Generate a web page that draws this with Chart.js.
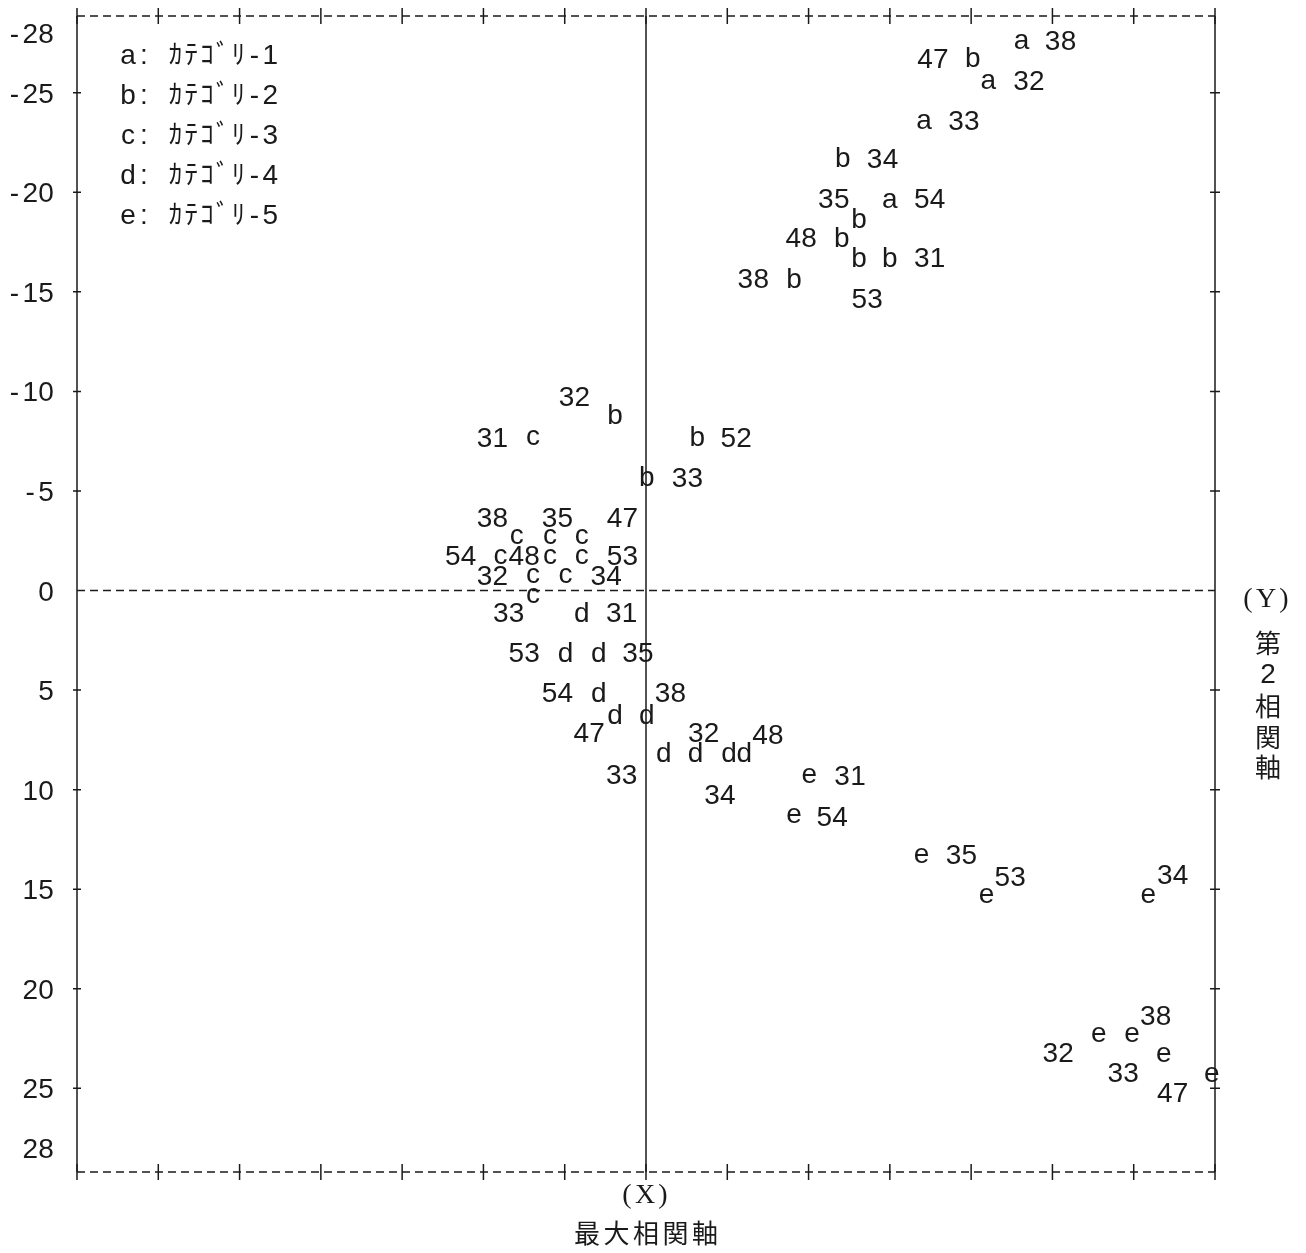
<!DOCTYPE html>
<html>
<head>
<meta charset="utf-8">
<title>最大相関軸</title>
<script src="https://cdn.jsdelivr.net/npm/chart.js"></script>
<style>
  * { margin: 0; padding: 0; }
  body { background: #fff; }
</style>
</head>
<body>
<canvas id="chart" width="1306" height="1253"></canvas>
<script>
// legend
const categories = ['a', 'b', 'c', 'd', 'e'];
const categoryNames = ['ｶﾃｺﾞﾘ-1', 'ｶﾃｺﾞﾘ-2', 'ｶﾃｺﾞﾘ-3', 'ｶﾃｺﾞﾘ-4', 'ｶﾃｺﾞﾘ-5'];

// axes
const xTicks = [-7, -6, -5, -4, -3, -2, -1, 0, 1, 2, 3, 4, 5, 6, 7];
const yTicks = [-28, -25, -20, -15, -10, -5, 0, 5, 10, 15, 20, 25, 28];
const yMarks = [-25, -20, -15, -10, -5, 5, 10, 15, 20, 25];

// a
const aPoints = [[4.62, -27.70], [4.21, -25.69], [3.42, -23.69], [3.00, -19.73]];
const aIds = ['38', '32', '33', '54'];
const aIdPos = [[5.10, -27.65], [4.71, -25.64], [3.91, -23.64], [3.49, -19.73]];

// b
const bPoints = [[4.02, -26.77], [2.42, -21.76], [2.62, -18.71], [2.41, -17.76], [2.62, -16.75],
                 [3.00, -16.75], [1.82, -15.70], [-0.38, -8.84], [0.63, -7.74], [0.01, -5.73]];
const bIds = ['47', '34', '35', '48', '53', '31', '38', '32', '52', '33'];
const bIdPos = [[3.53, -26.75], [2.91, -21.74], [2.31, -19.73], [1.91, -17.73], [2.72, -14.68],
                [3.49, -16.73], [1.32, -15.68], [-0.88, -9.77], [1.11, -7.71], [0.51, -5.71]];

// c
const cPoints = [[-1.39, -7.81], [-1.59, -2.85], [-1.18, -2.85], [-0.79, -2.85], [-1.79, -1.85],
                 [-1.18, -1.85], [-0.79, -1.85], [-1.39, -0.90], [-0.99, -0.90], [-1.39, 0.10]];
const cIds = ['31', '38', '35', '47', '54', '48', '53', '32', '34', '33'];
const cIdPos = [[-1.89, -7.71], [-1.89, -3.71], [-1.09, -3.71], [-0.29, -3.71], [-2.28, -1.80],
                [-1.50, -1.80], [-0.29, -1.80], [-1.89, -0.80], [-0.49, -0.80], [-1.69, 1.10]];

// d
const dPoints = [[-0.79, 1.08], [-0.99, 3.08], [-0.58, 3.08], [-0.58, 5.08], [-0.38, 6.19],
                 [0.01, 6.19], [0.22, 8.09], [0.61, 8.09], [1.02, 8.09], [1.21, 8.09]];
const dIds = ['31', '53', '35', '54', '47', '38', '33', '34', '32', '48'];
const dIdPos = [[-0.30, 1.10], [-1.50, 3.11], [-0.10, 3.11], [-1.09, 5.11], [-0.70, 7.11],
                [0.30, 5.11], [-0.30, 9.22], [0.91, 10.22], [0.71, 7.11], [1.50, 7.21]];

// e
const ePoints = [[2.01, 9.17], [1.82, 11.17], [3.39, 13.17], [4.19, 15.18], [6.18, 15.18],
                 [5.57, 22.19], [5.98, 22.19], [6.37, 23.19], [6.96, 24.19]];
const eIds = ['31', '54', '35', '53', '34', '32', '38', '33', '47'];
const eIdPos = [[2.51, 9.27], [2.29, 11.32], [3.88, 13.22], [4.48, 14.32], [6.48, 14.22],
                [5.07, 23.19], [6.27, 21.34], [5.87, 24.19], [6.48, 25.19]];

const allPoints = [aPoints, bPoints, cPoints, dPoints, ePoints];
const allIds = [aIds, bIds, cIds, dIds, eIds];
const allIdPos = [aIdPos, bIdPos, cIdPos, dIdPos, eIdPos];

const PITCH = 15.8;
const FONT = '28px "Liberation Sans", sans-serif';
const KANA_FONT = '27px "Noto Sans CJK JP", sans-serif';
const CJK_FONT = '26px "Noto Sans CJK JP", sans-serif';
const PAREN_FONT = '28px "Liberation Serif", serif';
const INK = '#1a1a1a';

// draws text one character per printer column, centred on cx, row centre cy
function drawRow(ctx, text, cx, cy, pitch, font) {
    const n = text.length;
    for (let i = 0; i < n; i++) {
        const ch = text[i];
        if (ch === ' ') continue;
        ctx.font = font || (ch.charCodeAt(0) > 0xff ? KANA_FONT : FONT);
        ctx.fillText(ch, cx + (i - (n - 1) / 2) * pitch, cy + 10);
    }
}

const datasets = [];
categories.forEach((cat, k) => {
    datasets.push({
        label: cat,
        data: allPoints[k].map(p => ({ x: p[0], y: p[1] })),
        glyphs: allPoints[k].map(() => cat),
        pointRadius: 0
    });
    datasets.push({
        label: cat + '-id',
        data: allIdPos[k].map(p => ({ x: p[0], y: p[1] })),
        glyphs: allIds[k],
        pointRadius: 0
    });
});

const framePlugin = {
    id: 'frame',
    beforeDatasetsDraw(chart) {
        const ctx = chart.ctx;
        const x = chart.scales.x, y = chart.scales.y;
        const L = x.left, R = x.right, T = y.top, B = y.bottom;
        const x0 = x.getPixelForValue(0), y0 = y.getPixelForValue(0);
        ctx.save();
        ctx.strokeStyle = INK;
        ctx.lineWidth = 1.5;

        // dashed lines: top, bottom, zero
        ctx.setLineDash([8, 5]);
        [T, B, y0].forEach(py => {
            ctx.beginPath();
            ctx.moveTo(L, py);
            ctx.lineTo(R, py);
            ctx.stroke();
        });
        ctx.setLineDash([]);

        // solid verticals
        [L, x0, R].forEach(px => {
            ctx.beginPath();
            ctx.moveTo(px, T);
            ctx.lineTo(px, B);
            ctx.stroke();
        });

        // + marks on top and bottom
        xTicks.forEach(v => {
            const px = x.getPixelForValue(v);
            [T, B].forEach(py => {
                ctx.beginPath();
                ctx.moveTo(px, py - 8);
                ctx.lineTo(px, py + 8);
                ctx.stroke();
            });
        });

        // marks on left and right
        yMarks.forEach(v => {
            const py = y.getPixelForValue(v);
            ctx.beginPath();
            ctx.moveTo(L - 4, py);
            ctx.lineTo(L + 4, py);
            ctx.moveTo(R - 5, py);
            ctx.lineTo(R + 5, py);
            ctx.stroke();
        });

        // y labels
        ctx.fillStyle = INK;
        ctx.textAlign = 'center';
        ctx.textBaseline = 'alphabetic';
        yTicks.forEach(v => {
            const s = String(v);
            const py = y.getPixelForValue(v);
            const lastX = L - 31;
            drawRow(ctx, s, lastX - (s.length - 1) / 2 * PITCH, py, PITCH);
        });

        // legend
        categories.forEach((cat, k) => {
            const s = cat + ': ' + categoryNames[k];
            const cy = T + 38 + k * 40;
            drawRow(ctx, s, L + 51 + (s.length - 1) / 2 * PITCH, cy, PITCH);
        });

        // axis titles
        drawRow(ctx, '(X)', x0 - 1, B + 21, 18, PAREN_FONT);
        ctx.font = CJK_FONT;
        const xt = '最大相関軸';
        for (let i = 0; i < xt.length; i++) {
            ctx.fillText(xt[i], x0 + (i - 2) * 29.5, B + 71);
        }
        drawRow(ctx, '(Y)', R + 51, y0 + 6, 18, PAREN_FONT);
        const yt = ['第', '2', '相', '関', '軸'];
        const yy = [643, 673, 706, 737, 767];
        yt.forEach((ch, i) => {
            ctx.font = ch === '2' ? FONT : CJK_FONT;
            ctx.fillText(ch, R + 53, yy[i] + 10);
        });
        ctx.restore();
    },
    afterDatasetsDraw(chart) {
        const ctx = chart.ctx;
        ctx.save();
        ctx.fillStyle = INK;
        ctx.textAlign = 'center';
        ctx.textBaseline = 'alphabetic';
        chart.data.datasets.forEach((ds, i) => {
            const meta = chart.getDatasetMeta(i);
            meta.data.forEach((el, j) => {
                drawRow(ctx, ds.glyphs[j], el.x, el.y, PITCH);
            });
        });
        ctx.restore();
    }
};

new Chart(document.getElementById('chart'), {
    type: 'scatter',
    data: { datasets: datasets },
    options: {
        responsive: false,
        animation: false,
        layout: { padding: { left: 77, right: 91, top: 16, bottom: 81 } },
        scales: {
            x: { type: 'linear', min: -7, max: 7, display: false },
            y: { type: 'linear', min: -28.85, max: 29.2, reverse: true, display: false }
        },
        plugins: {
            legend: { display: false },
            tooltip: { enabled: false }
        }
    },
    plugins: [framePlugin]
});
</script>
</body>
</html>
